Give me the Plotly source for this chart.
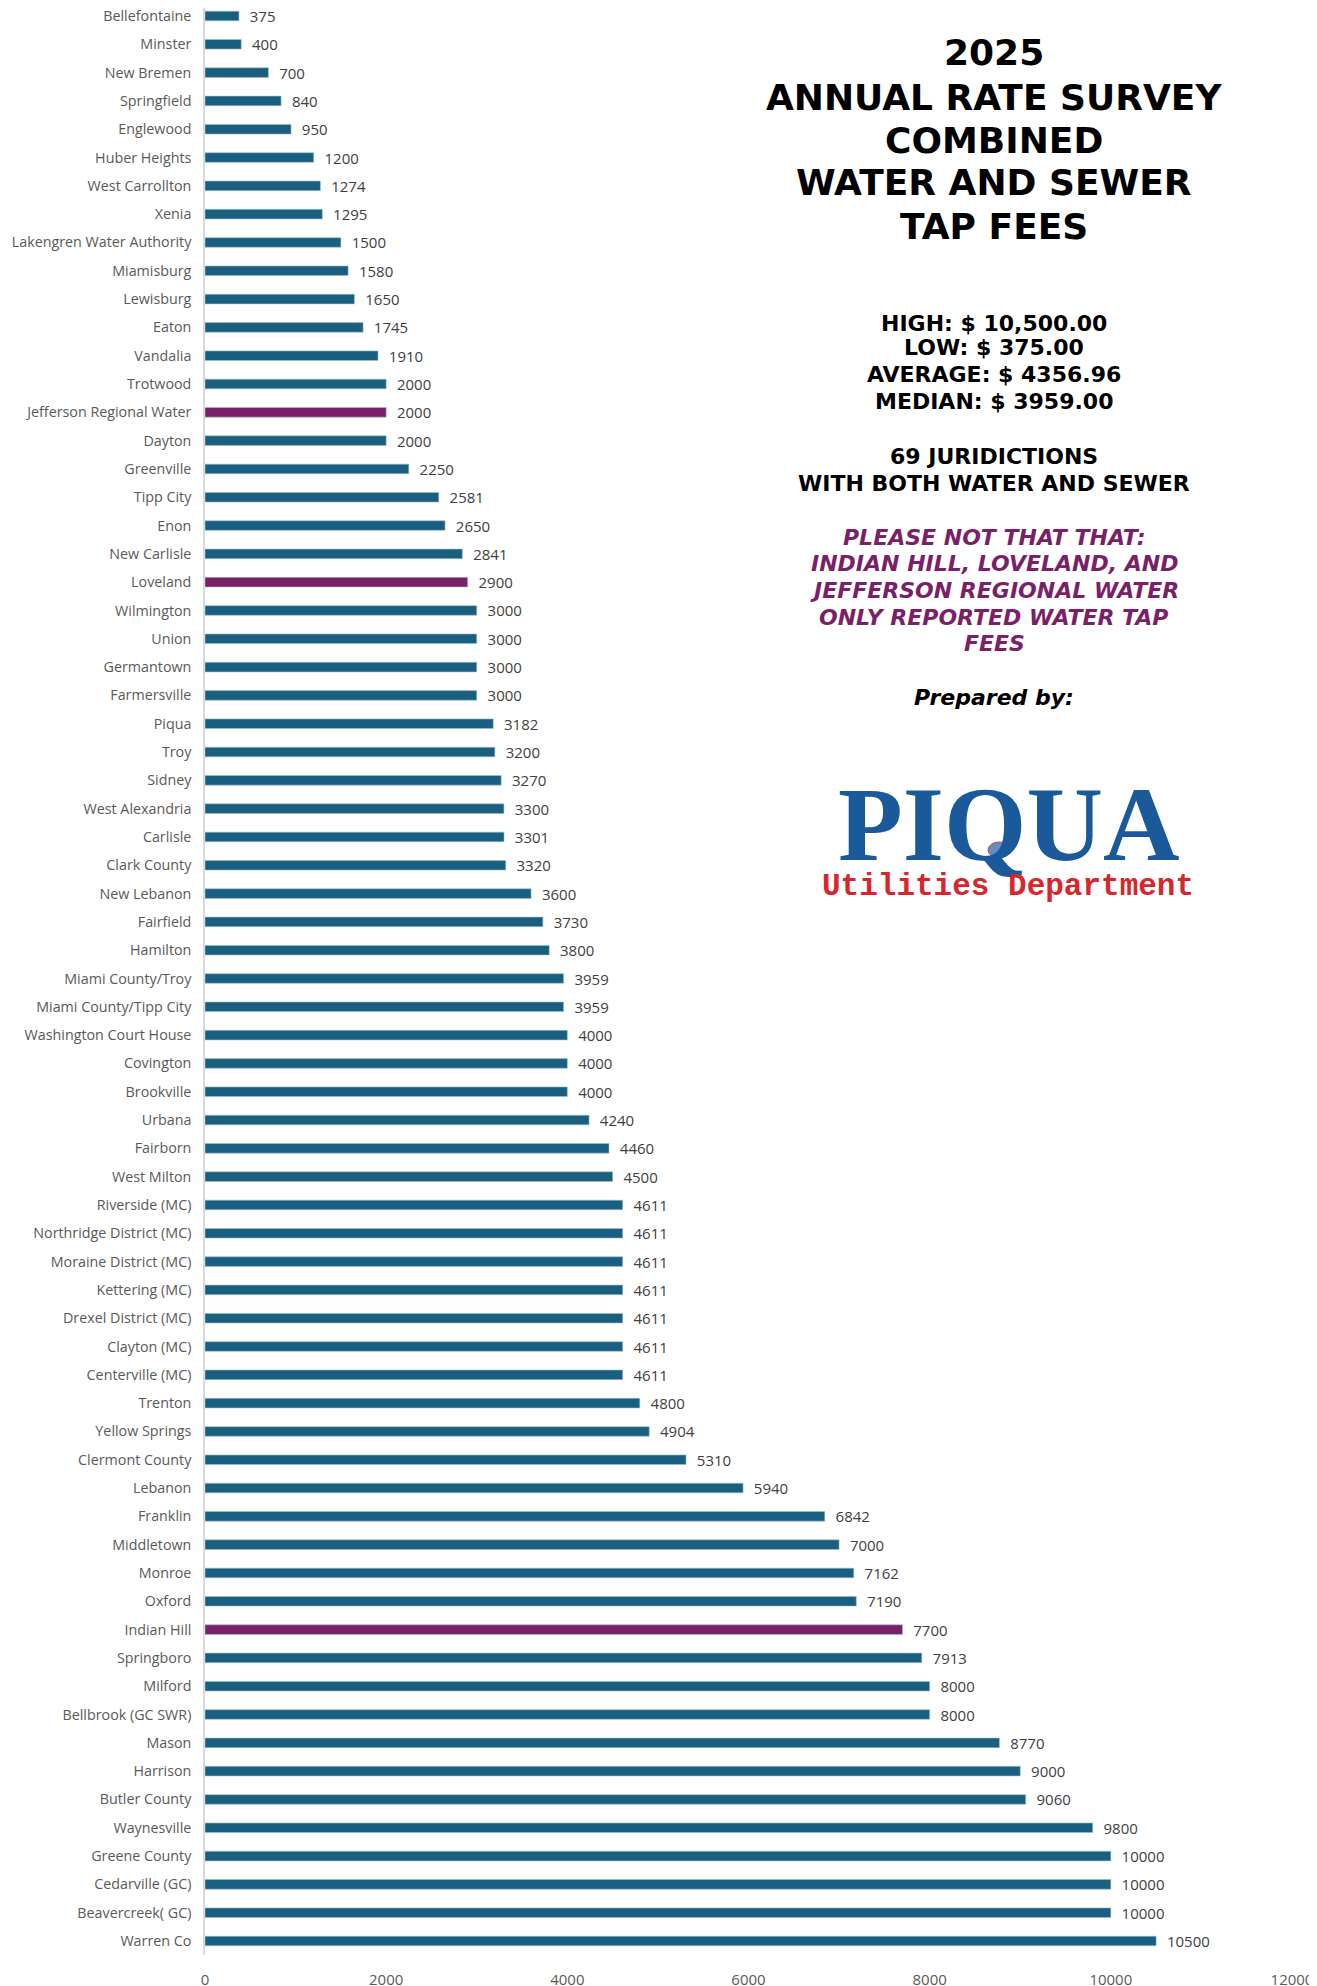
import plotly.graph_objects as go

categories = [
    "Bellefontaine", "Minster", "New Bremen", "Springfield", "Englewood", "Huber Heights",
    "West Carrollton", "Xenia", "Lakengren Water Authority", "Miamisburg", "Lewisburg", "Eaton",
    "Vandalia", "Trotwood", "Jefferson Regional Water", "Dayton", "Greenville", "Tipp City",
    "Enon", "New Carlisle", "Loveland", "Wilmington", "Union", "Germantown", "Farmersville",
    "Piqua", "Troy", "Sidney", "West Alexandria", "Carlisle", "Clark County", "New Lebanon",
    "Fairfield", "Hamilton", "Miami County/Troy", "Miami County/Tipp City",
    "Washington Court House", "Covington", "Brookville", "Urbana", "Fairborn", "West Milton",
    "Riverside (MC)", "Northridge District (MC)", "Moraine District (MC)", "Kettering (MC)",
    "Drexel District (MC)", "Clayton (MC)", "Centerville (MC)", "Trenton", "Yellow Springs",
    "Clermont County", "Lebanon", "Franklin", "Middletown", "Monroe", "Oxford", "Indian Hill",
    "Springboro", "Milford", "Bellbrook (GC SWR)", "Mason", "Harrison", "Butler County",
    "Waynesville", "Greene County", "Cedarville (GC)", "Beavercreek( GC)", "Warren Co",
]
tap_fees = [
    375, 400, 700, 840, 950, 1200,
    1274, 1295, 1500, 1580, 1650, 1745,
    1910, 2000, 2000, 2000, 2250, 2581,
    2650, 2841, 2900, 3000, 3000, 3000, 3000,
    3182, 3200, 3270, 3300, 3301, 3320, 3600,
    3730, 3800, 3959, 3959,
    4000, 4000, 4000, 4240, 4460, 4500,
    4611, 4611, 4611, 4611,
    4611, 4611, 4611, 4800, 4904,
    5310, 5940, 6842, 7000, 7162, 7190, 7700,
    7913, 8000, 8000, 8770, 9000, 9060,
    9800, 10000, 10000, 10000, 10500,
]
water_only = ["Jefferson Regional Water", "Loveland", "Indian Hill"]
x_ticks = [0, 2000, 4000, 6000, 8000, 10000, 12000]
x_tick_labels = ["0", "2000", "4000", "6000", "8000", "10000", "12000"]

title_lines = ["2025", "ANNUAL RATE SURVEY", "COMBINED", "WATER AND SEWER", "TAP FEES"]
stat_lines = ["HIGH: $ 10,500.00", "LOW: $ 375.00", "AVERAGE: $ 4356.96", "MEDIAN: $ 3959.00"]
count_lines = ["69 JURIDICTIONS", "WITH BOTH WATER AND SEWER"]
note_lines = ["PLEASE NOT THAT THAT:", "INDIAN HILL, LOVELAND, AND",
              "JEFFERSON REGIONAL WATER", "ONLY REPORTED WATER TAP", "FEES"]
prepared_line = "Prepared by:"
logo_main = "PIQUA"
logo_sub = "Utilities Department"

BLUE = "#1a5f80"
PURPLE = "#7a1f68"
colors = [PURPLE if c in water_only else BLUE for c in categories]

# page body has an 8px margin; figure sized so it fits the window
OFF = 8
W, H = 1317 - OFF, 1986 - OFF
ML, MR, MT, MB = 205 - OFF, 25, 0, 31
PW, PH = W - ML - MR, H - MT - MB


def px(sx):
    return (sx - OFF - ML) / PW


def py(sy):
    return (H - MB - (sy - OFF)) / PH


# category range so that first bar centre sits at screen y=16, last at 1941
first_c, last_c = 16 - OFF, 1941 - OFF
step = (last_c - first_c) / (len(categories) - 1)
y_top = -(first_c - MT) / step
y_bot = (len(categories) - 1) + ((H - MB) - last_c) / step

fig = go.Figure()
fig.add_trace(go.Bar(
    x=tap_fees, y=categories, orientation="h",
    marker=dict(color=colors, line=dict(color="#9cc2d4", width=0.6)),
    text=[str(v) for v in tap_fees], texttemplate="  %{text}", textposition="outside",
    constraintext="none",
    textfont=dict(family="Open Sans", size=15, color="#404040"),
    cliponaxis=False, hoverinfo="x+y",
))

annotations = []
CX = px(994)


def add_lines(lines, ys, size, color, style="normal", family="DejaVu Sans", weight="bold", cx=CX):
    for t, yy in zip(lines, ys):
        annotations.append(dict(text=t, x=cx, y=py(yy), xref="paper", yref="paper",
                                showarrow=False, xanchor="center", yanchor="middle",
                                font=dict(family=family, size=size, color=color,
                                          weight=weight, style=style)))


add_lines(title_lines, [52, 97, 140, 183, 227], 36, "#000000")
add_lines(stat_lines, [323, 348, 375, 402], 22, "#000000")
add_lines(count_lines, [456, 483], 22, "#000000")
add_lines(note_lines, [537, 563, 590, 617, 643], 22, PURPLE, style="italic")
add_lines([prepared_line], [697], 22, "#000000", style="italic")
add_lines([logo_main], [825], 106, "#1b5a9a", family="Liberation Serif", cx=px(1009))
add_lines([logo_sub], [887], 31, "#d8262c", family="Liberation Mono", cx=px(1008))

shapes = [dict(type="circle", xref="paper", yref="paper", xsizemode="pixel", ysizemode="pixel",
               xanchor=px(999), yanchor=py(850), x0=-11, x1=11, y0=-8, y1=8,
               fillcolor="#5f8fc4", line=dict(color="#c94a50", width=1))]

fig.update_layout(
    width=W, height=H,
    margin=dict(l=ML, r=MR, t=MT, b=MB, autoexpand=False),
    paper_bgcolor="white", plot_bgcolor="white",
    showlegend=False, bargap=0.66,
    annotations=annotations, shapes=shapes,
    xaxis=dict(range=[0, 12000], tickvals=x_ticks, ticktext=x_tick_labels,
               showgrid=False, zeroline=False, automargin=False,
               showline=False, ticks="", ticklabelstandoff=14,
               tickfont=dict(family="Open Sans", size=15, color="#595959")),
    yaxis=dict(range=[y_bot, y_top], type="category", showgrid=False, zeroline=False,
               automargin=False,
               showline=True, linecolor="#d9d9d9", linewidth=1.5, ticks="",
               ticklabelstandoff=9,
               tickfont=dict(family="Open Sans", size=14.3, color="#595959")),
)

fig.write_html("out.html")
